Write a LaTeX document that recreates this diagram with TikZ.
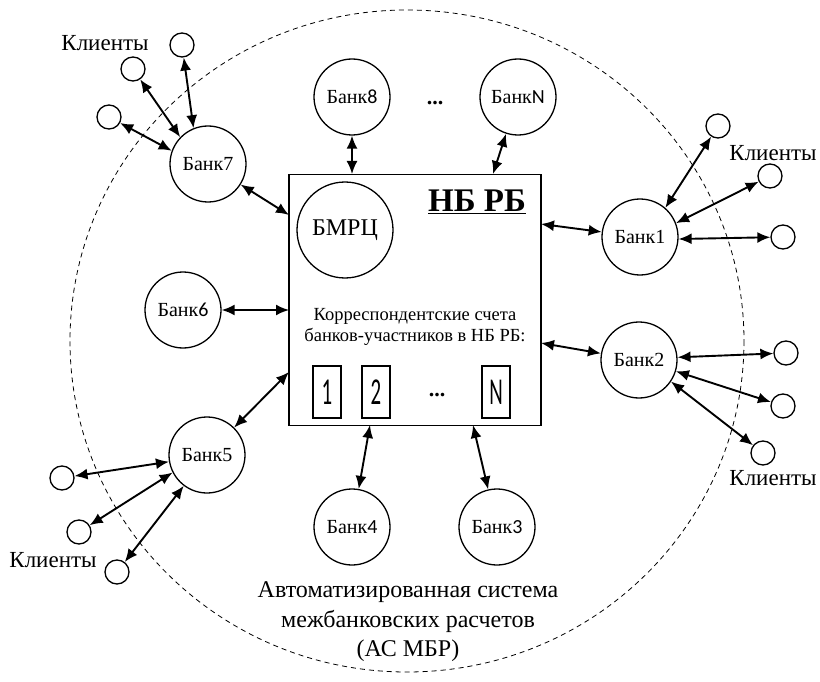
\documentclass[tikz,border=0pt]{standalone}
\usepackage{fontspec}
\setmainfont{Liberation Serif}
\newfontfamily\sdfont{Carlito}
\usetikzlibrary{arrows.meta}
\newcommand{\sd}[1]{{\sdfont #1}}
\newcommand{\bx}[1]{\scalebox{0.55}[1]{\fontsize{38}{38}\selectfont\sdfont #1}}
\begin{document}
\begin{tikzpicture}[x=1pt,y=-1pt,
  bank/.style={circle,draw,line width=1.3pt,minimum size=76pt,inner sep=0pt,font=\rmfamily\fontsize{20}{20}\selectfont},
  client/.style={circle,draw,line width=1.3pt,minimum size=24pt,inner sep=0pt},
  link/.style={line width=1.9pt,{Latex[length=13pt,width=11pt]}-{Latex[length=13pt,width=11pt]}},
  lbl/.style={font=\rmfamily\fontsize{23}{23}\selectfont,inner sep=0pt},
  acc/.style={draw,line width=1.2pt,minimum width=28pt,minimum height=52pt,inner sep=0pt}]
\useasboundingbox (0,0) rectangle (820,682);
% dashed system boundary
\draw[line width=0.8pt,dash pattern=on 5pt off 4pt] (407,341) ellipse [x radius=337, y radius=331];
% central box
\node[draw,line width=1.6pt,minimum width=252pt,minimum height=251pt,inner sep=0pt] (box) at (415,300) {};
\node[circle,draw,line width=1.3pt,minimum size=96pt,inner sep=0pt,font=\rmfamily\fontsize{24}{24}\selectfont] (bmrc) at (345,230) {БМРЦ};
\node[font=\rmfamily\fontsize{33}{33}\selectfont\bfseries,inner sep=0pt] (nbrb) at (477,202) {\underline{НБ РБ}};
\node[align=center,font=\rmfamily\fontsize{18.5}{21}\selectfont,inner sep=0pt] (kor) at (415,327) {Корреспондентские счета\\банков-участников в НБ РБ:};
\node[acc] (a1) at (327,392) {\bx{1}};
\node[acc] (a2) at (376,392) {\bx{2}};
\node[acc] (aN) at (496,392) {\bx{N}};
\node[font=\rmfamily\fontsize{22}{22}\selectfont\bfseries,inner sep=0pt] (dots1) at (437,395) {...};
% banks
\node[bank] (b8) at (352,97) {Банк\sd{8}};
\node[bank] (bN) at (518,97) {Банк\sd{N}};
\node[font=\rmfamily\fontsize{22}{22}\selectfont\bfseries,inner sep=0pt] (dots2) at (435,103) {...};
\node[bank] (b7) at (208,164) {Банк7};
\node[bank] (b1) at (640,237) {Банк1};
\node[bank] (b2) at (639,360) {Банк2};
\node[bank] (b6) at (183,310) {Банк\sd{6}};
\node[bank] (b5) at (207,455) {Банк5};
\node[bank] (b4) at (352,527) {Банк\sd{4}};
\node[bank] (b3) at (497,527) {Банк\sd{3}};
% points on the box edges
\coordinate (p7) at (289,215);
\coordinate (p8) at (352,174);
\coordinate (pN) at (493,174);
\coordinate (p1) at (541,224);
\coordinate (p2) at (541,343);
\coordinate (p6) at (289,310);
\coordinate (p5) at (289,372);
\coordinate (p4) at (370,425);
\coordinate (p3) at (473,425);
\draw[link] (b7) -- (p7);
\draw[link] (b8) -- (p8);
\draw[link] (bN) -- (pN);
\draw[link] (b1) -- (p1);
\draw[link] (b2) -- (p2);
\draw[link] (b6) -- (p6);
\draw[link] (b5) -- (p5);
\draw[link] (b4) -- (p4);
\draw[link] (b3) -- (p3);
% clients
\node[client] (c7a) at (182,45) {};
\node[client] (c7b) at (133,69) {};
\node[client] (c7c) at (109,117) {};
\node[lbl] (k7) at (105,43) {Клиенты};
\draw[link] (b7.112) -- (c7a);
\draw[link] (b7.136) -- (c7b);
\draw[link] (b7.160) -- (c7c);
\node[client] (c1a) at (718,126) {};
\node[client] (c1b) at (770,176) {};
\node[client] (c1c) at (783,237) {};
\node[lbl] (k1) at (773,153) {Клиенты};
\draw[link] (b1.49) -- (c1a);
\draw[link] (b1.21) -- (c1b);
\draw[link] (b1.-3) -- (c1c);
\node[client] (c2a) at (786,353) {};
\node[client] (c2b) at (783,406) {};
\node[client] (c2c) at (763,453) {};
\node[lbl] (k2) at (773,478) {Клиенты};
\draw[link] (b2.4) -- (c2a);
\draw[link] (b2.-17) -- (c2b);
\draw[link] (b2.-34) -- (c2c);
\node[client] (c5a) at (62,478) {};
\node[client] (c5b) at (79,532) {};
\node[client] (c5c) at (117,572) {};
\node[lbl] (k5) at (53,560) {Клиенты};
\draw[link] (b5.190) -- (c5a);
\draw[link] (b5.207) -- (c5b);
\draw[link] (b5.233) -- (c5c);
% caption
\node[align=center,font=\rmfamily\fontsize{24}{29.5}\selectfont,inner sep=0pt] (cap) at (408,622) {Автоматизированная система\\межбанковских расчетов\\(АС МБР)};
\end{tikzpicture}
\end{document}
